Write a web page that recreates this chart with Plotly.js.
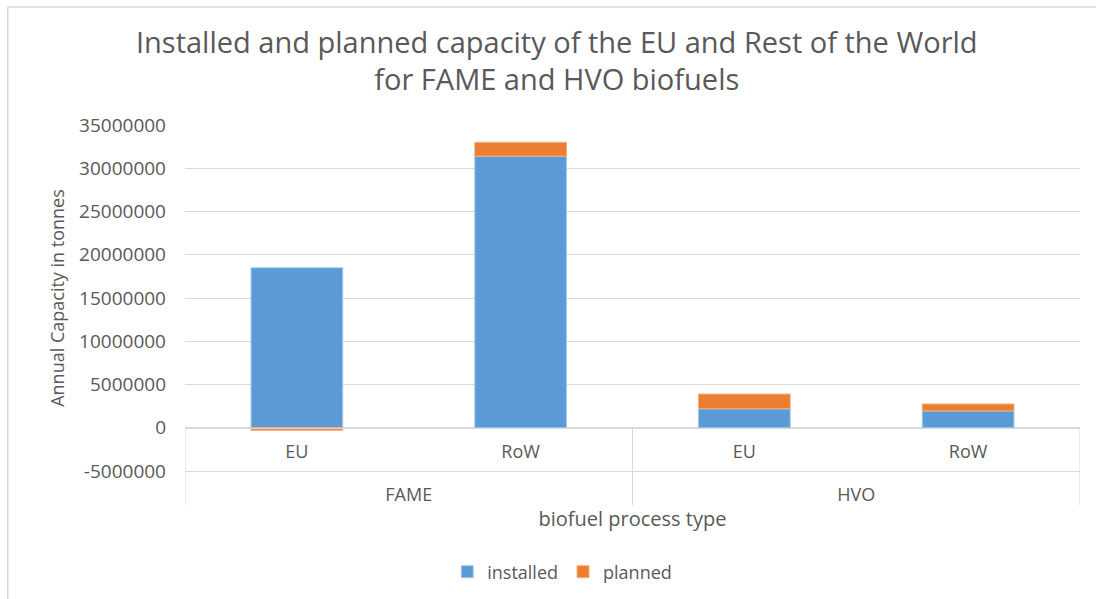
<!DOCTYPE html>
<html>
<head>
<meta charset="utf-8">
<script src="https://cdn.plot.ly/plotly-3.0.1.min.js"></script>
<style>html,body{margin:0;padding:0;background:#fff;}#chart{width:1096px;height:599px;}</style>
</head>
<body>
<div id="chart"></div>
<script>
const processTypes = ["FAME", "FAME", "HVO", "HVO"];
const regions = ["EU", "RoW", "EU", "RoW"];
const installed = [18500000, 31400000, 2200000, 1950000];
const planned = [-300000, 1600000, 1700000, 800000];
const yTicks = [-5000000, 0, 5000000, 10000000, 15000000, 20000000, 25000000, 30000000, 35000000];

const font = "Open Sans, Noto Sans, sans-serif";
const grey = "#595959";
const lineGrey = "#d9d9d9";

// index positions of the categories on the category scale
const idx = regions.map((_, i) => i);
const groups = [...new Set(processTypes)];
const groupCenters = groups.map(g => {
  const ii = idx.filter(i => processTypes[i] === g);
  return (ii[0] + ii[ii.length - 1]) / 2;
});
const groupBounds = [-0.5].concat(groups.map(g => {
  const ii = idx.filter(i => processTypes[i] === g);
  return ii[ii.length - 1] + 0.5;
}));

const traces = [
  {type: "bar", name: "installed", x: [processTypes, regions], y: installed,
   marker: {color: "#5b9bd5", line: {color: "#a9c9ec", width: 1}}},
  {type: "bar", name: "planned", x: [processTypes, regions], y: planned,
   marker: {color: "#ed7d31", line: {color: "#f4b183", width: 1}}}
];

const pY = y => (471 - y) / 346; // paper fraction helper for plot area 125..471

const layout = {
  width: 1096, height: 599,
  margin: {l: 185, r: 16, t: 125, b: 128},
  paper_bgcolor: "#fff", plot_bgcolor: "#fff",
  barmode: "relative", bargap: 0.59,
  title: {text: "Installed and planned capacity of the EU and Rest of the World<br>for FAME and HVO biofuels",
          font: {family: font, size: 29, color: grey}, x: 0.508, xanchor: "center", y: 0.912, yanchor: "top"},
  font: {family: font, color: grey, size: 18},
  yaxis: {range: [-5000000, 35000000], tickvals: yTicks, ticktext: yTicks.map(String), automargin: false,
          showgrid: true, gridcolor: lineGrey, gridwidth: 1, zeroline: false, showline: false,
          ticks: "", ticklabelstandoff: 18, tickfont: {size: 19, color: grey},
          title: {text: "Annual Capacity in tonnes", font: {size: 18, color: grey}, standoff: 9}},
  xaxis: {type: "multicategory", anchor: "free", position: 0.125, automargin: false,
          showline: true, linecolor: lineGrey, linewidth: 1,
          showdividers: false, showticklabels: false, ticks: "", showgrid: false},
  xaxis2: {type: "linear", overlaying: "x", anchor: "free", position: 0.125, automargin: false,
           range: [-0.5, regions.length - 0.5], tickvals: idx, ticktext: regions,
           showline: false, showgrid: false, zeroline: false, ticks: "", ticklabelstandoff: 11,
           tickfont: {size: 18, color: grey}},
  xaxis3: {type: "linear", overlaying: "x", anchor: "free", position: 0, side: "bottom", automargin: false,
           range: [-0.5, regions.length - 0.5], tickvals: groupCenters, ticktext: groups,
           showline: true, linecolor: lineGrey, linewidth: 1,
           showgrid: false, zeroline: false, ticks: "", ticklabelstandoff: 7,
           tickfont: {size: 18, color: grey},
           title: {text: "biofuel process type", font: {size: 20, color: grey}, standoff: 7}},
  legend: {orientation: "h", xref: "container", yref: "container", x: 0.513, xanchor: "center",
           y: (599 - 572) / 599, yanchor: "middle", font: {size: 18, color: grey}},
  shapes: groupBounds.map((b, i) => ({type: "line", xref: i === 0 ? "x2" : "x3", yref: "paper", x0: b, x1: b,
            y0: 0.125, y1: pY(505), line: {color: lineGrey, width: 1}})).concat([
    {type: "line", xref: "paper", yref: "paper", x0: -0.198, x1: 1.02, y0: pY(7), y1: pY(7),
     line: {color: lineGrey, width: 1.5}},
    {type: "line", xref: "paper", yref: "paper", x0: -0.198, x1: -0.198, y0: pY(7), y1: pY(599),
     line: {color: lineGrey, width: 1.5}}
  ])
};

Plotly.newPlot("chart", traces, layout, {displayModeBar: false, staticPlot: true});
</script>
</body>
</html>
